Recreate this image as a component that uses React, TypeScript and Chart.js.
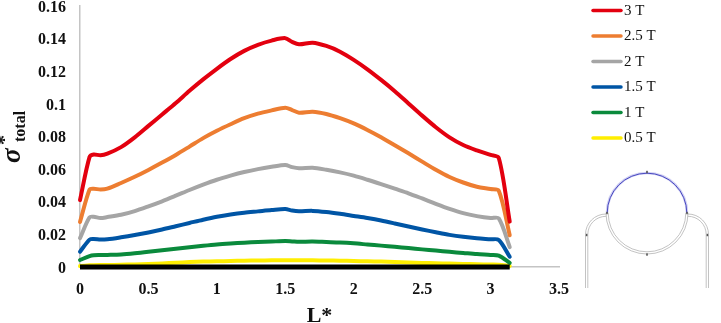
import React, { useEffect, useRef } from "react";
import { Chart, registerables } from "chart.js";

Chart.register(...registerables);

const FONT = "'Liberation Serif'";

const lStar = [0, 0.07, 0.1, 0.15, 0.2, 0.3, 0.4, 0.5, 0.6, 0.7, 0.8, 0.9, 1.0, 1.1, 1.2, 1.3, 1.4, 1.5, 1.55, 1.6, 1.7, 1.8, 1.9, 2.0, 2.1, 2.2, 2.3, 2.4, 2.5, 2.6, 2.7, 2.8, 2.9, 3.0, 3.06, 3.14];

const t3 = [0.041, 0.0675, 0.069, 0.0685, 0.0695, 0.0735, 0.0795, 0.0865, 0.0935, 0.1005, 0.108, 0.115, 0.1215, 0.1275, 0.1325, 0.1362, 0.1388, 0.1403, 0.138, 0.1365, 0.1375, 0.1355, 0.132, 0.127, 0.1212, 0.1147, 0.1078, 0.1003, 0.0928, 0.0857, 0.0795, 0.0748, 0.0715, 0.0687, 0.0668, 0.0278];
const t25 = [0.0276, 0.0475, 0.048, 0.0475, 0.048, 0.0515, 0.0553, 0.0595, 0.064, 0.0687, 0.0738, 0.079, 0.0835, 0.0875, 0.0912, 0.094, 0.096, 0.0977, 0.0962, 0.0946, 0.0952, 0.0938, 0.0912, 0.088, 0.084, 0.0795, 0.0746, 0.0697, 0.0646, 0.0596, 0.0552, 0.0518, 0.0492, 0.0478, 0.0468, 0.0195];
const t2 = [0.0177, 0.0305, 0.0308, 0.03, 0.0306, 0.032, 0.0343, 0.0372, 0.0403, 0.0437, 0.0472, 0.0505, 0.0535, 0.056, 0.0582, 0.06, 0.0614, 0.0625, 0.0612, 0.0605, 0.0608, 0.0596, 0.058, 0.056, 0.0535, 0.0508, 0.048, 0.0452, 0.042, 0.0387, 0.0356, 0.033, 0.0312, 0.03, 0.0298, 0.0122];
const t15 = [0.0094, 0.0168, 0.0172, 0.0168, 0.017, 0.0182, 0.0196, 0.0212, 0.023, 0.025, 0.027, 0.029, 0.0308, 0.0322, 0.0333, 0.0341, 0.0349, 0.0355, 0.0346, 0.0342, 0.0344, 0.0337, 0.0326, 0.0313, 0.03, 0.0285, 0.0267, 0.0248, 0.023, 0.0213, 0.0197, 0.0185, 0.0176, 0.017, 0.0166, 0.0063];
const t1 = [0.0043, 0.0067, 0.0072, 0.0073, 0.0074, 0.0077, 0.0084, 0.0093, 0.0103, 0.0112, 0.0121, 0.013, 0.0138, 0.0144, 0.0149, 0.0153, 0.0156, 0.0159, 0.0157, 0.0155, 0.0156, 0.0153, 0.015, 0.0145, 0.0138, 0.0131, 0.0124, 0.0116, 0.0108, 0.0101, 0.0093, 0.0086, 0.0079, 0.0074, 0.007, 0.0025];
const t05 = [0.0006, 0.001, 0.0011, 0.0012, 0.0012, 0.0014, 0.0016, 0.0019, 0.0022, 0.0026, 0.003, 0.0033, 0.0035, 0.0037, 0.0039, 0.004, 0.0041, 0.0042, 0.0041, 0.0041, 0.0041, 0.004, 0.0039, 0.0037, 0.0035, 0.0033, 0.003, 0.0027, 0.0025, 0.0023, 0.0021, 0.0019, 0.0017, 0.0015, 0.0014, 0.0006];
const t0 = lStar.map(() => 0);

const seriesLabels = ["3 T", "2.5 T", "2 T", "1.5 T", "1 T", "0.5 T"];
const seriesValues = [t3, t25, t2, t15, t1, t05];
const seriesColors = ["#e3000f", "#ed7d31", "#a5a5a5", "#0055a5", "#0a8a3c", "#ffee00"];

const toPoints = (values: number[]) => values.map((y, i) => ({ x: lStar[i], y }));

const legendPlugin = {
  id: "sideLegend",
  afterDraw(chart: any) {
    const { ctx } = chart;
    ctx.save();
    ctx.font = `15px ${FONT}`;
    ctx.textBaseline = "middle";
    ctx.textAlign = "left";
    seriesLabels.forEach((label, i) => {
      const y = 10.5 + i * 25.5;
      ctx.strokeStyle = seriesColors[i];
      ctx.lineWidth = 3.5;
      ctx.lineCap = "round";
      ctx.beginPath();
      ctx.moveTo(593, y);
      ctx.lineTo(621, y);
      ctx.stroke();
      ctx.fillStyle = "#111";
      ctx.fillText(label, 624, y + 0.5);
    });
    ctx.restore();
  },
};

const yTitlePlugin = {
  id: "yTitle",
  afterDraw(chart: any) {
    const { ctx } = chart;
    ctx.save();
    ctx.translate(20, 163);
    ctx.rotate(-Math.PI / 2);
    ctx.fillStyle = "#111";
    ctx.textBaseline = "alphabetic";
    ctx.textAlign = "left";
    ctx.font = `italic bold 27px ${FONT}`;
    ctx.fillText("σ", 0, 0);
    ctx.font = `bold 20px ${FONT}`;
    ctx.fillText("*", 18, -9);
    ctx.font = `bold 16px ${FONT}`;
    ctx.fillText("total", 21, 5);
    ctx.restore();
  },
};

const schematicPlugin = {
  id: "schematic",
  afterDraw(chart: any) {
    const { ctx } = chart;
    const cx = 647;
    const cy = 213;
    ctx.save();
    ctx.lineWidth = 0.8;
    ctx.strokeStyle = "#b4b4b4";
    [38.8, 41].forEach((r) => {
      ctx.beginPath();
      ctx.arc(cx, cy, r, 0, Math.PI);
      ctx.stroke();
    });
    [[585.5, 606, 1], [587.8, 606, 1], [708.5, 688, -1], [706.2, 688, -1]].forEach(([x, ax, dir]) => {
      ctx.beginPath();
      ctx.moveTo(x, 288);
      ctx.lineTo(x, 234.5);
      const r = Math.abs(ax - x);
      if (dir === 1) ctx.arc(ax, 234.5, r, Math.PI, 1.5 * Math.PI);
      else ctx.arc(ax, 234.5, r, 0, -0.5 * Math.PI, true);
      ctx.stroke();
    });
    ctx.strokeStyle = "rgba(120,120,220,0.35)";
    ctx.lineWidth = 2.6;
    ctx.beginPath();
    ctx.arc(cx, cy, 40, Math.PI, 2 * Math.PI);
    ctx.stroke();
    ctx.strokeStyle = "#4848c0";
    ctx.lineWidth = 1;
    ctx.beginPath();
    ctx.arc(cx, cy, 39.8, Math.PI, 2 * Math.PI);
    ctx.stroke();
    ctx.fillStyle = "#555";
    [[607, 213], [687, 213], [647, 172], [647, 254.5], [586.6, 235], [707.4, 235]].forEach(([x, y]) => {
      ctx.fillRect(x - 0.8, y - 1.2, 1.6, 2.4);
    });
    ctx.restore();
  },
};

export default function App() {
  const ref = useRef<HTMLCanvasElement | null>(null);
  useEffect(() => {
    const canvas = ref.current;
    if (!canvas) return;
    const chart = new Chart(canvas, {
      type: "line",
      data: {
        datasets: [
          {
            label: "0 T",
            data: toPoints(t0),
            borderColor: "#000000",
            borderWidth: 5,
            pointRadius: 0,
            tension: 0,
            borderCapStyle: "butt",
          },
          ...seriesLabels.map((label, i) => ({
            label,
            data: toPoints(seriesValues[i]),
            borderColor: seriesColors[i],
            borderWidth: 4,
            pointRadius: 0,
            tension: 0.3,
            borderCapStyle: "round" as const,
          })),
        ],
      },
      options: {
        responsive: false,
        animation: false,
        clip: false,
        font: { family: FONT },
        layout: { padding: { top: 6, right: 162, left: 0, bottom: 0 } },
        plugins: { legend: { display: false }, tooltip: { enabled: false } },
        scales: {
          x: {
            type: "linear",
            min: 0,
            max: 3.5,
            grid: { display: false, drawTicks: false },
            border: { color: "#c4c4c4", width: 1.5 },
            ticks: {
              stepSize: 0.5,
              padding: 13,
              maxRotation: 0,
              color: "#111",
              font: { family: FONT, size: 16, weight: "bold" },
              callback: (v: any) => String(v),
            },
            title: {
              display: true,
              text: "L*",
              color: "#111",
              padding: { top: 6, bottom: -7 },
              font: { family: FONT, size: 22, weight: "bold" },
            },
            afterFit: (s: any) => {
              s.height = 56;
              s.paddingRight = 0;
              s.paddingLeft = 0;
            },
          },
          y: {
            min: 0,
            max: 0.16,
            grid: { display: false, drawTicks: false },
            border: { color: "#c4c4c4", width: 1.5 },
            ticks: {
              stepSize: 0.02,
              padding: 14,
              labelOffset: 1.5,
              color: "#111",
              font: { family: FONT, size: 16, weight: "bold" },
              callback: (v: any) => String(+Number(v).toFixed(2)),
            },
            afterFit: (s: any) => {
              s.width = 80;
              s.paddingTop = 0;
              s.paddingBottom = 0;
            },
          },
        },
      },
      plugins: [legendPlugin, yTitlePlugin, schematicPlugin],
    } as any);
    return () => chart.destroy();
  }, []);
  return (
    <canvas
      ref={ref}
      width={721}
      height={323}
      style={{ position: "absolute", left: 0, top: 0, display: "block" }}
    />
  );
}
